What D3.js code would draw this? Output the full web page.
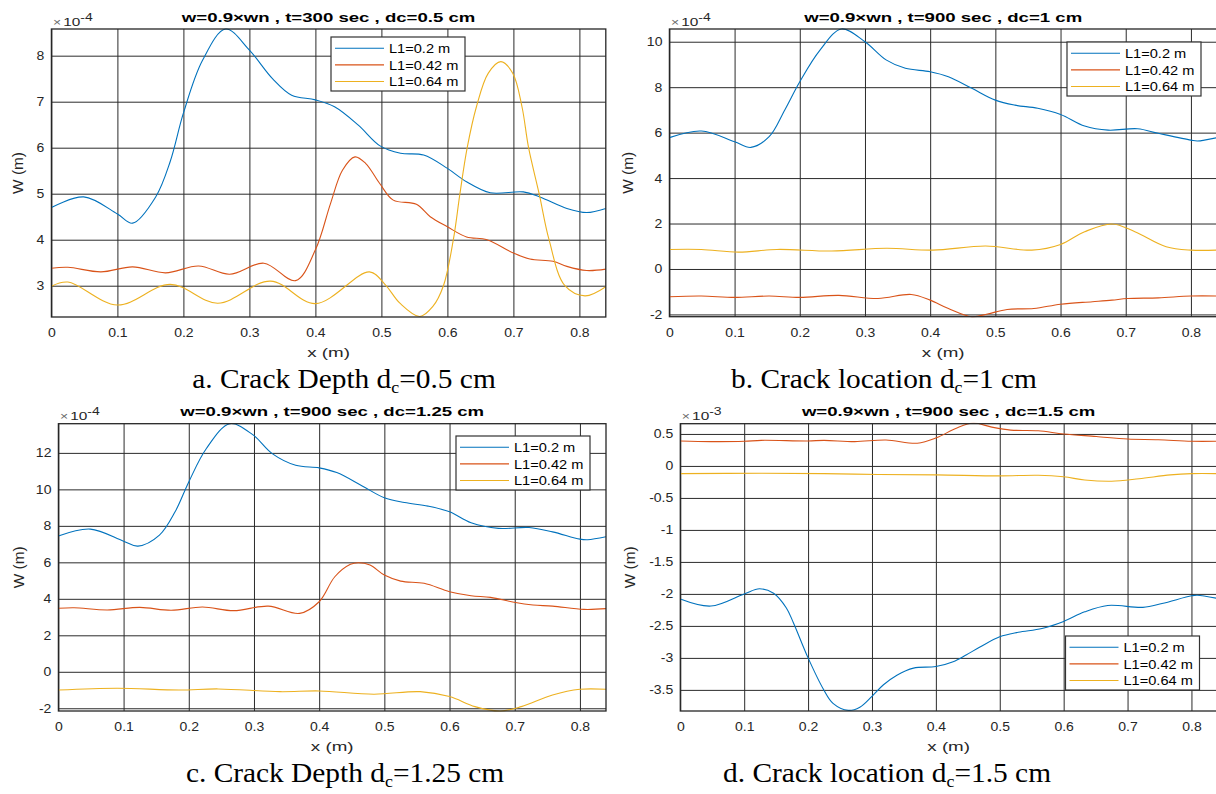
<!DOCTYPE html>
<html>
<head>
<meta charset="utf-8">
<script src="https://cdn.jsdelivr.net/npm/d3@7/dist/d3.min.js"></script>
<style>
  body { margin: 0; background: #fff; }
  svg { display: block; }
  text { font-family: "Liberation Sans", Arial, Helvetica, sans-serif; }
</style>
</head>
<body>
<div id="fig"></div>
<script>
// ---- data ----
var xTicks = [0, 0.1, 0.2, 0.3, 0.4, 0.5, 0.6, 0.7, 0.8];
var xDomain = [0, 0.84];
var seriesNames = ["L1=0.2 m", "L1=0.42 m", "L1=0.64 m"];
var seriesColors = ["#0072bd", "#d95319", "#edb120"];

var titles = [
    "w=0.9\u00d7wn , t=300 sec , dc=0.5 cm",
    "w=0.9\u00d7wn , t=900 sec , dc=1 cm",
    "w=0.9\u00d7wn , t=900 sec , dc=1.25 cm",
    "w=0.9\u00d7wn , t=900 sec , dc=1.5 cm"
];
var captionHead = ["a. Crack Depth d", "b. Crack location d", "c. Crack Depth d", "d. Crack location d"];
var captionTail = ["=0.5 cm", "=1 cm", "=1.25 cm", "=1.5 cm"];
var yExponent = ["-4", "-4", "-4", "-3"];

// panel a  (x 10^-4)
var aYTicks = [3, 4, 5, 6, 7, 8];
var aYDomain = [2.32, 8.58];
var aBlue = [[0,4.70],[0.049,4.93],[0.1,4.56],[0.123,4.36],[0.158,4.93],[0.18,5.7],[0.2,6.75],[0.229,7.9],[0.264,8.58],[0.3,8.12],[0.335,7.5],[0.364,7.14],[0.4,7.04],[0.429,6.89],[0.465,6.49],[0.498,6.04],[0.529,5.88],[0.564,5.84],[0.6,5.55],[0.629,5.26],[0.665,5.02],[0.715,5.04],[0.74,4.93],[0.781,4.68],[0.811,4.59],[0.84,4.68]];
var aRed = [[0,3.38],[0.025,3.40],[0.075,3.30],[0.123,3.41],[0.173,3.28],[0.223,3.43],[0.27,3.25],[0.322,3.49],[0.37,3.11],[0.4,3.78],[0.423,4.79],[0.441,5.51],[0.46,5.80],[0.476,5.66],[0.498,5.21],[0.518,4.86],[0.553,4.77],[0.574,4.50],[0.6,4.28],[0.629,4.06],[0.66,4.0],[0.7,3.71],[0.725,3.58],[0.76,3.53],[0.781,3.42],[0.811,3.33],[0.84,3.36]];
var aYellow = [[0,2.99],[0.025,3.08],[0.1,2.58],[0.18,3.03],[0.252,2.62],[0.332,3.10],[0.4,2.61],[0.482,3.30],[0.506,3.02],[0.528,2.62],[0.558,2.33],[0.578,2.55],[0.594,3.0],[0.609,4.0],[0.619,5.0],[0.63,6.0],[0.644,6.89],[0.662,7.62],[0.681,7.87],[0.699,7.62],[0.713,6.89],[0.723,6.0],[0.739,5.0],[0.754,4.0],[0.778,3.0],[0.8085,2.78],[0.84,2.98]];

// panel b  (x 10^-4)
var bYTicks = [-2, 0, 2, 4, 6, 8, 10];
var bYDomain = [-2.1, 10.56];
var bBlue = [[0,5.78],[0.049,6.07],[0.1,5.60],[0.125,5.35],[0.153,5.82],[0.177,7.0],[0.2,8.24],[0.231,9.63],[0.264,10.56],[0.3,10.0],[0.333,9.19],[0.362,8.83],[0.4,8.68],[0.428,8.46],[0.464,7.95],[0.5,7.43],[0.53,7.21],[0.565,7.07],[0.6,6.80],[0.637,6.29],[0.673,6.11],[0.718,6.17],[0.75,5.97],[0.8,5.67],[0.81,5.63],[0.84,5.78]];
var bRed = [[0,-1.22],[0.049,-1.19],[0.1,-1.25],[0.153,-1.19],[0.2,-1.25],[0.26,-1.16],[0.32,-1.30],[0.371,-1.12],[0.4,-1.37],[0.428,-1.74],[0.464,-2.10],[0.488,-1.98],[0.518,-1.78],[0.559,-1.74],[0.6,-1.55],[0.649,-1.44],[0.679,-1.37],[0.703,-1.30],[0.75,-1.27],[0.8,-1.19],[0.84,-1.19]];
var bYellow = [[0,0.86],[0.049,0.86],[0.106,0.74],[0.165,0.86],[0.249,0.79],[0.333,0.91],[0.404,0.83],[0.485,1.01],[0.556,0.83],[0.6,1.08],[0.637,1.64],[0.679,1.98],[0.714,1.64],[0.762,0.98],[0.8,0.83],[0.84,0.83]];

// panel c  (x 10^-4)
var cYTicks = [-2, 0, 2, 4, 6, 8, 10, 12];
var cYDomain = [-2.15, 13.6];
var cBlue = [[0,7.44],[0.049,7.82],[0.1,7.16],[0.122,6.89],[0.155,7.49],[0.179,8.77],[0.2,10.41],[0.227,12.24],[0.263,13.6],[0.298,13.0],[0.328,11.96],[0.364,11.32],[0.4,11.18],[0.427,10.92],[0.466,10.19],[0.5,9.54],[0.531,9.28],[0.567,9.08],[0.6,8.77],[0.633,8.17],[0.675,7.86],[0.722,7.91],[0.758,7.67],[0.8,7.27],[0.812,7.24],[0.84,7.40]];
var cRed = [[0,3.48],[0.024,3.51],[0.075,3.39],[0.125,3.53],[0.173,3.37],[0.221,3.55],[0.269,3.35],[0.322,3.60],[0.37,3.20],[0.4,3.84],[0.424,5.21],[0.448,5.89],[0.46,5.98],[0.478,5.85],[0.5,5.30],[0.525,4.97],[0.561,4.85],[0.6,4.39],[0.633,4.17],[0.663,4.08],[0.699,3.81],[0.728,3.66],[0.758,3.60],[0.806,3.42],[0.84,3.46]];
var cYellow = [[0,-1.0],[0.09,-0.90],[0.185,-1.0],[0.245,-0.94],[0.34,-1.09],[0.4,-1.05],[0.484,-1.23],[0.555,-1.09],[0.6,-1.36],[0.639,-1.91],[0.678,-2.15],[0.71,-1.91],[0.758,-1.27],[0.8,-0.96],[0.84,-0.96]];

// panel d  (x 10^-3)
var dYTicks = [-3.5, -3, -2.5, -2, -1.5, -1, -0.5, 0, 0.5];
var dYDomain = [-3.83, 0.66];
var dBlue = [[0,-2.08],[0.048,-2.19],[0.1,-2.0],[0.124,-1.92],[0.146,-1.99],[0.166,-2.22],[0.177,-2.45],[0.2,-3.0],[0.224,-3.49],[0.239,-3.71],[0.263,-3.82],[0.281,-3.77],[0.3,-3.60],[0.318,-3.42],[0.339,-3.27],[0.365,-3.16],[0.4,-3.135],[0.427,-3.06],[0.448,-2.95],[0.469,-2.83],[0.5,-2.67],[0.529,-2.60],[0.566,-2.54],[0.6,-2.43],[0.633,-2.28],[0.669,-2.18],[0.724,-2.21],[0.754,-2.15],[0.8,-2.03],[0.809,-2.02],[0.84,-2.07]];
var dRed = [[0,0.39],[0.048,0.38],[0.1,0.385],[0.127,0.40],[0.2,0.39],[0.225,0.40],[0.273,0.38],[0.322,0.405],[0.371,0.355],[0.401,0.44],[0.432,0.59],[0.459,0.67],[0.486,0.61],[0.517,0.56],[0.56,0.55],[0.6,0.50],[0.651,0.46],[0.7,0.42],[0.748,0.41],[0.8,0.385],[0.84,0.385]];
var dYellow = [[0,-0.12],[0.127,-0.115],[0.225,-0.12],[0.31,-0.135],[0.401,-0.14],[0.5,-0.156],[0.56,-0.146],[0.6,-0.17],[0.633,-0.22],[0.675,-0.24],[0.718,-0.20],[0.767,-0.14],[0.8,-0.12],[0.84,-0.12]];

// ---- layout ----
var W = 1216, H = 794;
var panels = [
    { l: 51.4, r: 605.8, t: 29, b: 317, yTicks: aYTicks, yDomain: aYDomain, series: [aBlue, aRed, aYellow],
      ylabX: 18.5, capX: 344, leg: { x: 331, y: 37 } },
    { l: 669.4, r: 1217, t: 29, b: 316.7, yTicks: bYTicks, yDomain: bYDomain, series: [bBlue, bRed, bYellow],
      ylabX: 628, capX: 884, leg: { x: 1067, y: 42 } },
    { l: 58.4, r: 606, t: 423.7, b: 711, yTicks: cYTicks, yDomain: cYDomain, series: [cBlue, cRed, cYellow],
      ylabX: 19, capX: 345, leg: { x: 456, y: 436 } },
    { l: 680.3, r: 1217, t: 423.7, b: 711, yTicks: dYTicks, yDomain: dYDomain, series: [dBlue, dRed, dYellow],
      ylabX: 630, capX: 887, leg: { x: 1065.5, y: 636 } }
];

var svg = d3.select("#fig").append("svg")
    .attr("width", W)
    .attr("height", H);

svg.append("rect").attr("width", W).attr("height", H).style("fill", "#fff");

var fmt = function(d) { return String(d); };

// the figure text is drawn a little wider than the font; widen glyphs to match
function stretch(sel, k) {
    sel.each(function() {
        var n = this.getComputedTextLength();
        d3.select(this).attr("textLength", n * k).attr("lengthAdjust", "spacingAndGlyphs");
    });
}

panels.forEach(function(p, i) {
    var g = svg.append("g");
    var x = d3.scaleLinear().domain(xDomain).range([p.l, p.r]);
    var y = d3.scaleLinear().domain(p.yDomain).range([p.b, p.t]);
    var w = p.r - p.l, h = p.b - p.t;

    g.append("rect")
        .attr("x", p.l).attr("y", p.t)
        .attr("width", w).attr("height", h)
        .style("fill", "#fff");

    // x axis + vertical grid
    var xa = g.append("g")
        .attr("transform", "translate(0," + p.b + ")")
        .call(d3.axisBottom(x).tickValues(xTicks).tickFormat(fmt).tickSize(-h).tickPadding(11));
    // y axis + horizontal grid
    var ya = g.append("g")
        .attr("transform", "translate(" + p.l + ",0)")
        .call(d3.axisLeft(y).tickValues(p.yTicks).tickFormat(fmt).tickSize(-w).tickPadding(7));

    [xa, ya].forEach(function(a) {
        a.select(".domain").remove();
        a.selectAll(".tick line").style("stroke", "#2b2b2b").style("stroke-width", 1);
        a.selectAll(".tick text")
            .style("font-size", "12.5px")
            .style("fill", "#262626")
            .style("font-family", '"Liberation Sans", Arial, sans-serif');
        stretch(a.selectAll(".tick text"), 1.12);
    });

    // curves
    var clipId = "clip" + i;
    svg.append("clipPath").attr("id", clipId)
        .append("rect").attr("x", p.l).attr("y", p.t - 1).attr("width", w).attr("height", h + 2);

    var line = d3.line()
        .x(function(d) { return x(d[0]); })
        .y(function(d) { return y(d[1]); })
        .curve(d3.curveCatmullRom.alpha(0.5));

    g.append("g").attr("clip-path", "url(#" + clipId + ")")
        .selectAll("path")
        .data(p.series)
        .enter()
        .append("path")
        .attr("d", line)
        .style("fill", "none")
        .style("stroke", function(d, k) { return seriesColors[k]; })
        .style("stroke-width", 1.1);

    // axes box
    g.append("rect")
        .attr("x", p.l).attr("y", p.t)
        .attr("width", w).attr("height", h)
        .style("fill", "none")
        .style("stroke", "#262626")
        .style("stroke-width", 1.3);

    // title
    var tt = g.append("text")
        .attr("x", (p.l + p.r) / 2)
        .attr("y", p.t - 7.5)
        .attr("text-anchor", "middle")
        .style("font-size", "13px")
        .style("font-weight", "bold")
        .style("fill", "#000")
        .text(titles[i]);
    stretch(tt, 1.43);

    // exponent label
    var ex = g.append("text")
        .attr("transform", "translate(" + (p.l + 1.5) + "," + (p.t - 3.5) + ") scale(1.4,1)")
        .style("fill", "#262626")
        .style("font-size", "11px");
    ex.append("tspan").style("font-size", "10px").style("fill", "#666").text("\u00d7");
    ex.append("tspan").attr("dx", 1.5).text("10");
    ex.append("tspan").attr("dy", -5).style("font-size", "10px").text(yExponent[i]);

    // axis labels
    var xl = g.append("text")
        .attr("x", (p.l + p.r) / 2)
        .attr("y", p.b + 40)
        .attr("text-anchor", "middle")
        .style("font-size", "12.5px")
        .style("fill", "#262626")
        .text("x (m)");
    stretch(xl, 1.5);

    var yl = g.append("text")
        .attr("transform", "translate(" + p.ylabX + "," + ((p.t + p.b) / 2) + ") rotate(-90)")
        .attr("text-anchor", "middle")
        .attr("dy", "0.35em")
        .style("font-size", "14px")
        .style("fill", "#262626")
        .text("W (m)");
    stretch(yl, 1.1);

    // legend
    var lg = g.append("g").attr("transform", "translate(" + p.leg.x + "," + p.leg.y + ")");
    lg.append("rect")
        .attr("width", 134).attr("height", 54)
        .style("fill", "#fff")
        .style("stroke", "#333")
        .style("stroke-width", 1.2);
    var rows = lg.selectAll(".row")
        .data(seriesNames)
        .enter()
        .append("g")
        .attr("transform", function(d, k) { return "translate(0," + (11.3 + k * 16.6) + ")"; });
    rows.append("line")
        .attr("x1", 4).attr("x2", 53)
        .style("stroke", function(d, k) { return seriesColors[k]; })
        .style("stroke-width", 1.1);
    var lt = rows.append("text")
        .attr("x", 58)
        .attr("dy", "0.36em")
        .style("font-size", "13.5px")
        .style("fill", "#000")
        .text(function(d) { return d; });
    stretch(lt, 1.08);

    // caption
    var cap = svg.append("text")
        .attr("transform", "translate(" + p.capX + "," + (p.b + 71) + ") scale(1.05,1)")
        .attr("text-anchor", "middle")
        .style("font-family", '"Liberation Serif", "Times New Roman", serif')
        .style("font-size", "28px")
        .style("fill", "#000");
    cap.append("tspan").text(captionHead[i]);
    cap.append("tspan").attr("dy", 5).style("font-size", "17px").text("c");
    cap.append("tspan").attr("dy", -5).text(captionTail[i]);
});
</script>
</body>
</html>
